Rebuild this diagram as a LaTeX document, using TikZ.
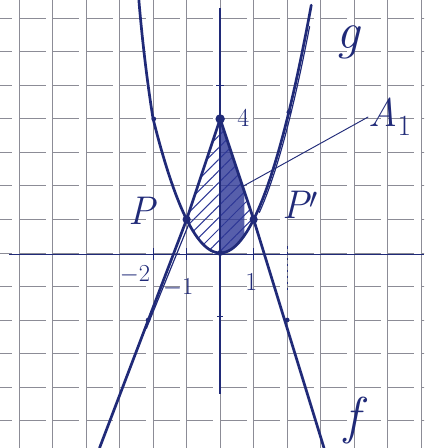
\documentclass[tikz,border=0pt]{standalone}
\usetikzlibrary{patterns.meta}
\definecolor{ink}{RGB}{32,42,120}
\definecolor{hatchc}{RGB}{45,55,150}
\definecolor{gridc}{RGB}{140,140,150}
\begin{document}
\begin{tikzpicture}[
  curve/.style={ink, line width=2.3pt, line cap=round, line join=round},
  thinink/.style={ink, line width=1pt, line cap=round},
  gridline/.style={gridc, line width=0.8pt},
  lab/.style={ink, font=\fontsize{34}{34}\selectfont\itshape, inner sep=0pt},
  biglab/.style={ink, font=\fontsize{44}{44}\selectfont\itshape, inner sep=0pt},
  ticklab/.style={ink, font=\fontsize{22}{22}\selectfont, inner sep=0pt},
  dotpt/.style={circle, fill=ink, inner sep=0pt, minimum size=5pt}
]
\useasboundingbox (-6.57,-5.82) rectangle (6.09,7.55);
\clip (-6.57,-5.82) rectangle (6.09,7.55);
% grid paper
\foreach \i in {-6,...,6} \draw[gridline] (\i,-5.82) -- (\i,7.55);
\foreach \j in {-5,...,7} \draw[gridline, dash pattern=on 22.45pt off 6pt] (-7,\j) -- (7,\j);
% shaded region A1
\fill[hatchc, opacity=0.8] (0,4) -- (0.72,1.84) -- plot[domain=0.72:0, samples=20] (\x,{\x*\x}) -- cycle;
\fill[pattern={Lines[angle=45,distance=7pt,line width=0.9pt]}, pattern color=hatchc]
  (-1,1) -- (0,4) -- (1,1) -- plot[domain=1:-1, samples=40] (\x,{\x*\x}) -- cycle;
% axes
\draw[ink, line width=1.4pt] (-6.3,-0.05) -- (6.09,-0.05);
\draw[ink, line width=1.2pt] (0,7.3) -- (0,-4.2);
\draw[ink, line width=1pt] (-0.12,5) -- (0.12,5);
\draw[ink, line width=1pt] (-0.1,-1.9) -- (0.1,-1.9);
\foreach \t in {-2,-1,1} \draw[ink, line width=1pt] (\t,0.15) -- (\t,-0.2);
\draw[ink, line width=1pt, dash pattern=on 2pt off 3pt] (2,0.2) -- (2,-1.1);
% parabola g
\draw[curve] (-2.43,7.6) .. controls (-2.3,6.0) and (-2.1,4.6) .. (-2,4)
  -- plot[domain=-2:2.72, samples=80] (\x,{\x*\x});
\draw[thinink] plot[domain=1.1:2.6, samples=30] ({\x+0.07},{\x*\x});
% tent f
\draw[curve] (-3.6,-5.82) -- (-1,1) -- (0,4) -- (1,1) -- (3.1,-5.82);
\draw[thinink] (-0.92,0.9) -- (-2.2,-2.25);
% points
\node[dotpt, minimum size=8pt] (top) at (0,4) {};
\node[dotpt, minimum size=7pt] (pl) at (-1,1) {};
\node[dotpt, minimum size=7pt] (pr) at (1,1) {};
\node[dotpt] (o) at (0,0) {};
\node[dotpt, minimum size=4pt] (q1) at (2,-2) {};
\node[dotpt, minimum size=4pt] (q2) at (-2.15,-2) {};
\node[dotpt, minimum size=4pt] (q3) at (2.05,4.2) {};
\node[dotpt, minimum size=4pt] (q4) at (-1.98,4) {};
% labels
\node[lab] (P) at (-2.33,1.25) {P};
\node[lab] (Pp) at (2.39,1.43) {P$'$};
\node[biglab] (g) at (3.82,6.3) {g};
\node[lab] (A) at (5.07,4.06) {A$_1$};
\node[biglab] (f) at (3.94,-4.99) {f};
\node[ticklab] (four) at (0.69,4.03) {4};
\node[ticklab] (m2) at (-2.54,-0.66) {$-2$};
\node[ticklab] (m1) at (-1.25,-1.04) {$-1$};
\node[ticklab] (one) at (0.93,-0.87) {1};
\coordinate (a1tip) at (0.7,2.0);
\draw[ink, line width=0.8pt] (A.west) -- (a1tip);
\end{tikzpicture}
\end{document}
